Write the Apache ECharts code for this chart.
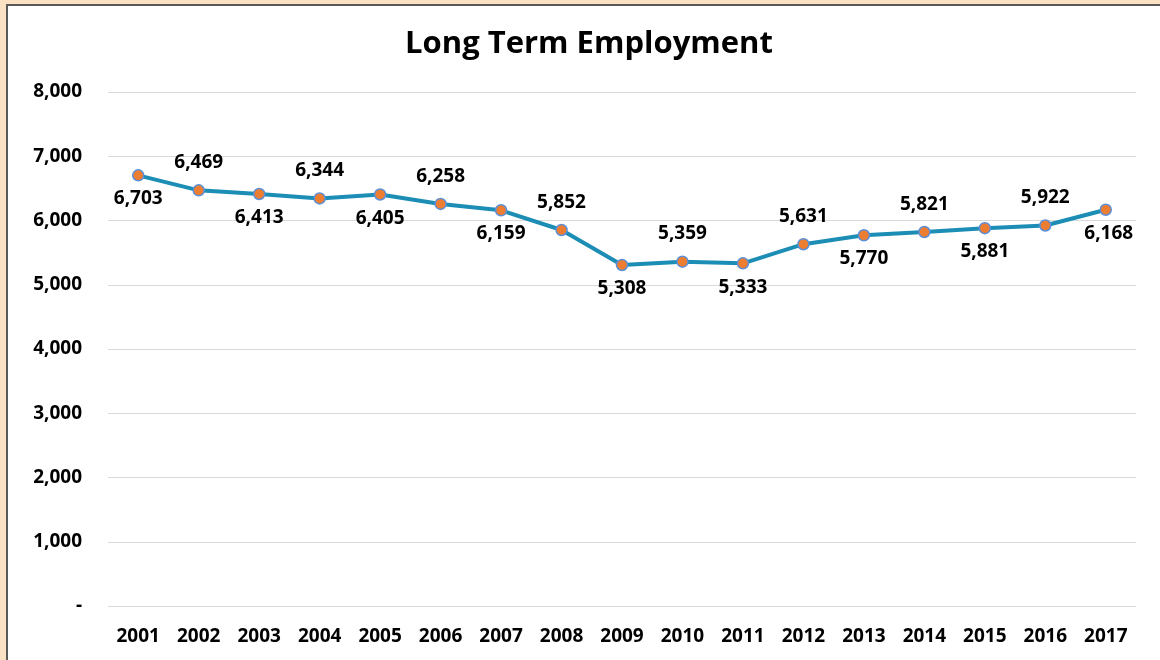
<!DOCTYPE html>
<html>
<head>
<meta charset="utf-8">
<script src="https://cdn.jsdelivr.net/npm/echarts@6/dist/echarts.min.js"></script>
<style>
html,body{margin:0;padding:0;background:#FCE2C4;}
#chart{width:1160px;height:660px;}
</style>
</head>
<body>
<div id="chart"></div>
<script>
var years = ['2001','2002','2003','2004','2005','2006','2007','2008','2009','2010','2011','2012','2013','2014','2015','2016','2017'];
var employment = [6703,6469,6413,6344,6405,6258,6159,5852,5308,5359,5333,5631,5770,5821,5881,5922,6168];
var labelPositions = ['bottom','top','bottom','top','bottom','top','bottom','top','bottom','top','bottom','top','bottom','top','bottom','top','bottom'];

var fontFam = '"Open Sans", Lato, sans-serif';
function fmt(v){ return v === 0 ? '-' : v.toLocaleString('en-US'); }

var seriesData = employment.map(function(v, i){
  var pos = labelPositions[i];
  return {
    value: v,
    label: {
      position: pos,
      distance: pos === 'top' ? 12 : 8,
      offset: i === years.length - 1 ? [3, 0] : [0, 0]
    }
  };
});

var chart = echarts.init(document.getElementById('chart'));
chart.setOption({
  backgroundColor: '#FCE2C4',
  animation: false,
  graphic: [{
    type: 'rect', z: -10, silent: true,
    shape: { x: 7, y: 5, width: 1170, height: 680 },
    style: { fill: '#ffffff', stroke: '#595959', lineWidth: 2 }
  }],
  title: {
    text: 'Long Term Employment',
    left: 584, textAlign: 'center', top: 24,
    textStyle: { fontFamily: fontFam, fontWeight: 'bold', fontSize: 31, color: '#000' }
  },
  grid: { left: 108, right: 24, top: 92, bottom: 54 },
  xAxis: {
    type: 'category',
    data: years,
    boundaryGap: true,
    axisLine: { show: false },
    axisTick: { show: false },
    axisLabel: { fontFamily: fontFam, fontWeight: 'bold', fontSize: 19, color: '#000', margin: 21 }
  },
  yAxis: {
    type: 'value',
    min: 0, max: 8000, interval: 1000,
    axisLine: { show: false },
    axisTick: { show: false },
    splitLine: { lineStyle: { color: '#D9D9D9', width: 1 } },
    axisLabel: { fontFamily: fontFam, fontWeight: 'bold', fontSize: 19, color: '#000', margin: 26, formatter: fmt }
  },
  series: [{
    type: 'line',
    data: seriesData,
    symbol: 'circle',
    symbolSize: 11,
    lineStyle: { color: '#1C8DB4', width: 4 },
    itemStyle: { color: '#ED7D31', borderColor: '#5B8FD8', borderWidth: 1.5 },
    label: {
      show: true,
      fontFamily: fontFam, fontWeight: 'bold', fontSize: 19, color: '#000',
      formatter: function(p){ return fmt(p.value); }
    }
  }]
});
</script>
</body>
</html>
